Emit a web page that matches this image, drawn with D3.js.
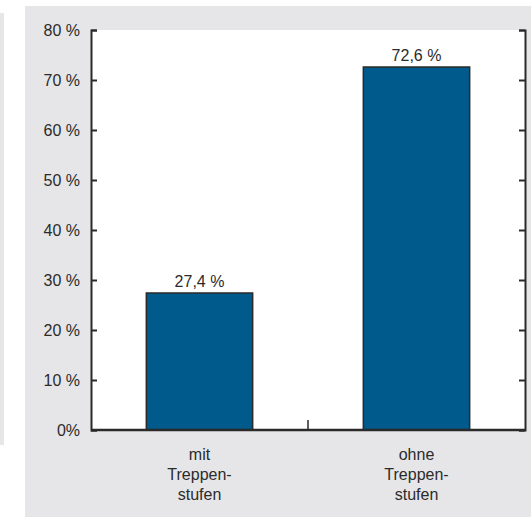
<!DOCTYPE html>
<html>
<head>
<meta charset="utf-8">
<script src="https://cdn.jsdelivr.net/npm/d3@7"></script>
<style>
  html, body { margin: 0; padding: 0; background: #ffffff; }
  svg { display: block; font-family: "Liberation Sans", Arial, sans-serif; }
</style>
</head>
<body>
<svg id="chart" width="531" height="517"></svg>
<script>
// Share of cases with / without stair steps
const categories = [["mit", "Treppen-", "stufen"], ["ohne", "Treppen-", "stufen"]];
const values = [27.4, 72.6];
const valueLabels = ["27,4 %", "72,6 %"];
const tickValues = [0, 10, 20, 30, 40, 50, 60, 70, 80];
const tickLabels = ["0%", "10 %", "20 %", "30 %", "40 %", "50 %", "60 %", "70 %", "80 %"];

const svg = d3.select("#chart");
const panelColor = "#e6e6e8";
const barColor = "#005a8c";
const inkColor = "#2a2a2a";
const textColor = "#2b2b2b";
const fontSize = 16;

// background panels
svg.append("rect").attr("x", 0).attr("y", 13).attr("width", 4).attr("height", 432).attr("fill", panelColor);
svg.append("rect").attr("x", 25).attr("y", 6).attr("width", 506).attr("height", 511).attr("fill", panelColor);

const plot = { left: 91, right: 525, top: 30, bottom: 430 };

// white plotting area
svg.append("rect")
  .attr("x", plot.left).attr("y", plot.top)
  .attr("width", plot.right - plot.left).attr("height", plot.bottom - plot.top)
  .attr("fill", "#ffffff");

const x = d3.scaleBand()
  .domain(d3.range(values.length))
  .range([plot.left, plot.right])
  .paddingInner(0.51).paddingOuter(0.255);

const y = d3.scaleLinear().domain([0, 80]).range([plot.bottom, plot.top]);

// bars
svg.append("g").selectAll("rect")
  .data(values)
  .join("rect")
  .attr("x", (d, i) => x(i))
  .attr("y", d => y(d))
  .attr("width", x.bandwidth())
  .attr("height", d => y(0) - y(d))
  .attr("fill", barColor)
  .attr("stroke", inkColor)
  .attr("stroke-width", 1.5);

// value labels
svg.append("g").selectAll("text")
  .data(values)
  .join("text")
  .attr("x", (d, i) => x(i) + x.bandwidth() / 2)
  .attr("y", d => y(d) - 6)
  .attr("text-anchor", "middle")
  .attr("font-size", fontSize)
  .attr("fill", textColor)
  .text((d, i) => valueLabels[i]);

// left axis with inward ticks
const leftAxis = d3.axisLeft(y)
  .tickValues(tickValues)
  .tickSize(-6)
  .tickPadding(11)
  .tickFormat((d, i) => tickLabels[i]);
const gl = svg.append("g").attr("transform", `translate(${plot.left},0)`).call(leftAxis);
gl.select(".domain").attr("stroke", inkColor).attr("stroke-width", 2);
gl.selectAll(".tick line").attr("stroke", inkColor).attr("stroke-width", 2);
gl.selectAll(".tick text").attr("font-size", fontSize).attr("fill", textColor)
  .attr("font-family", "Liberation Sans, Arial, sans-serif");

// right axis with inward ticks, no labels
const rightAxis = d3.axisRight(y).tickValues(tickValues).tickSize(-6).tickFormat("");
const gr = svg.append("g").attr("transform", `translate(${plot.right},0)`).call(rightAxis);
gr.select(".domain").attr("stroke", inkColor).attr("stroke-width", 2);
gr.selectAll(".tick line").attr("stroke", inkColor).attr("stroke-width", 2);

// bottom axis line with a divider tick between the categories
svg.append("line")
  .attr("x1", plot.left).attr("x2", plot.right)
  .attr("y1", plot.bottom).attr("y2", plot.bottom)
  .attr("stroke", inkColor).attr("stroke-width", 2.5);
const mid = (x(0) + x.bandwidth() + x(1)) / 2;
svg.append("line")
  .attr("x1", mid).attr("x2", mid)
  .attr("y1", plot.bottom).attr("y2", plot.bottom - 10)
  .attr("stroke", inkColor).attr("stroke-width", 1.5);

// category labels
const cat = svg.append("g").selectAll("text")
  .data(categories)
  .join("text")
  .attr("x", (d, i) => x(i) + x.bandwidth() / 2)
  .attr("y", plot.bottom + 30)
  .attr("text-anchor", "middle")
  .attr("font-size", fontSize)
  .attr("fill", textColor);
cat.selectAll("tspan")
  .data(d => d)
  .join("tspan")
  .attr("x", function () { return d3.select(this.parentNode).attr("x"); })
  .attr("dy", (d, j) => j === 0 ? 0 : 20)
  .text(d => d);
</script>
</body>
</html>
